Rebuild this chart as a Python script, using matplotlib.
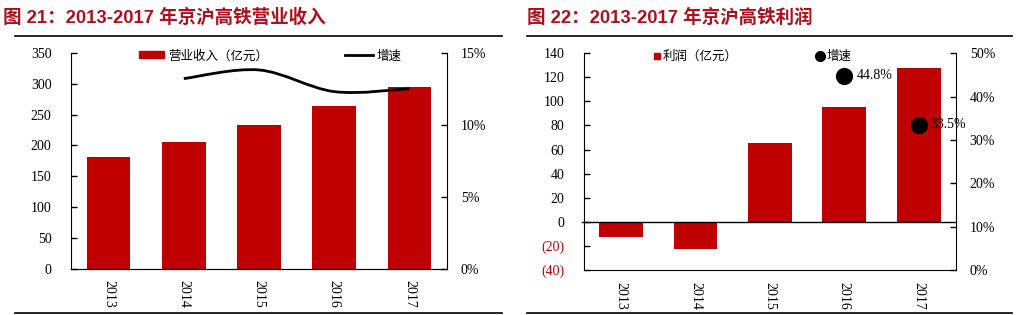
import matplotlib
matplotlib.use("Agg")
import matplotlib.pyplot as plt
import numpy as np
from matplotlib.lines import Line2D
from matplotlib.patches import Patch, PathPatch
from matplotlib.path import Path
from matplotlib.ticker import FuncFormatter

# Data
years = ["2013", "2014", "2015", "2016", "2017"]
revenue = [182, 205, 233, 263, 295]          # 营业收入（亿元）
revenue_growth = [13.2, 13.8, 12.3, 12.5]    # 增速 %, 2014-2017
profit = [-12.5, -22.2, 65.6, 95.2, 127.9]   # 利润（亿元）
profit_growth = [44.8, 33.5]                 # 增速 %, 2016-2017

RED = "#c00000"
TITLE_RED = "#b0101c"
SERIF = ["Liberation Serif", "Noto Sans CJK SC"]
CJK = ["Noto Sans CJK SC", "DejaVu Sans"]
TITLE_FONT = ["Liberation Sans", "Noto Sans CJK SC"]


def smooth_path(xs, ys):
    # Catmull-Rom style bezier through the points (like Excel's smoothed line)
    pts = np.column_stack([xs, ys]).astype(float)
    verts = [pts[0]]
    codes = [Path.MOVETO]
    n = len(pts)
    for i in range(n - 1):
        p0 = pts[max(i - 1, 0)]
        p1 = pts[i]
        p2 = pts[i + 1]
        p3 = pts[min(i + 2, n - 1)]
        c1 = p1 + (p2 - p0) / 6.0
        c2 = p2 - (p3 - p1) / 6.0
        verts += [c1, c2, p2]
        codes += [Path.CURVE4] * 3
    return Path(verts, codes)


def style_axes(ax, ax2):
    for a in (ax, ax2):
        a.spines["top"].set_visible(False)
        a.tick_params(axis="y", direction="in", length=4, width=1,
                      labelsize=10, pad=14)
    ax.spines["right"].set_visible(False)
    ax2.spines["left"].set_visible(False)
    ax.tick_params(axis="x", length=0, pad=8)
    for lab in ax.get_xticklabels() + ax.get_yticklabels() + ax2.get_yticklabels():
        lab.set_family(SERIF)


fig = plt.figure(figsize=(10.3, 3.15), dpi=100)

# ---------------- Left: revenue ----------------
x = np.arange(len(years))
ax1 = fig.add_axes([0.0689, 0.145, 0.3651, 0.688])
ax1.bar(x, revenue, width=0.58, color=RED, zorder=2)
ax1.set_xlim(-0.5, 4.5)
ax1.set_ylim(0, 350)
ax1.set_yticks(range(0, 351, 50))
ax1.set_xticks(x)
ax1.set_xticklabels(years, rotation=-90, fontsize=10)
ax1b = ax1.twinx()
ax1b.set_ylim(0, 15)
ax1b.set_yticks([0, 5, 10, 15])
ax1b.yaxis.set_major_formatter(FuncFormatter(lambda v, p: f"{v:.0f}%"))
ax1b.add_patch(PathPatch(smooth_path(x[1:], revenue_growth), facecolor="none",
                         edgecolor="black", lw=2, zorder=3))
style_axes(ax1, ax1b)
ax1b.tick_params(axis="y", pad=10)

leg_a = ax1.legend([Patch(color=RED)], ["营业收入（亿元）"], loc="center left",
                   bbox_to_anchor=(0.15, 0.985), frameon=False, handlelength=2.0,
                   handleheight=0.5, handletextpad=0.4, prop={"family": CJK, "size": 9})
ax1.add_artist(leg_a)
ax1.legend([Line2D([], [], color="black", lw=2)], ["增速"], loc="center left",
           bbox_to_anchor=(0.7, 0.985), frameon=False, handlelength=2.2,
           handletextpad=0.3, prop={"family": CJK, "size": 9})

# ---------------- Right: profit ----------------
ax2 = fig.add_axes([0.567, 0.143, 0.361, 0.688])
ax2.bar(x, profit, width=0.59, color=RED, zorder=2)
ax2.axhline(0, color="black", lw=1, zorder=3, xmin=-0.006, clip_on=False)
ax2.set_xlim(-0.5, 4.5)
ax2.set_ylim(-40, 140)
ax2.set_yticks(range(-40, 141, 20))
ax2.yaxis.set_major_formatter(FuncFormatter(
    lambda v, p: f"({abs(v):.0f})" if v < 0 else f"{v:.0f}"))
ax2.set_xticks(x)
ax2.set_xticklabels(years, rotation=-90, fontsize=10)
ax2.spines["bottom"].set_visible(False)
ax2b = ax2.twinx()
ax2b.set_ylim(0, 50)
ax2b.set_yticks(range(0, 51, 10))
ax2b.yaxis.set_major_formatter(FuncFormatter(lambda v, p: f"{v:.0f}%"))
ax2b.scatter(x[3:], profit_growth, s=130, color="black", zorder=4)
for xi, g in zip(x[3:], profit_growth):
    ax2b.annotate(f"{g}%", (xi, g), xytext=(12, 0), textcoords="offset pixels",
                  va="center", ha="left", fontsize=10, family=SERIF, zorder=5)
style_axes(ax2, ax2b)
ax2b.tick_params(axis="y", pad=10)
ax2.tick_params(axis="x", pad=9)
for lab, v in zip(ax2.get_yticklabels(), ax2.get_yticks()):
    if v < 0:
        lab.set_color(RED)

leg_b = ax2.legend([Line2D([], [], marker="s", color=RED, ls="none", markersize=4)],
                   ["利润（亿元）"], loc="center left", bbox_to_anchor=(0.155, 0.985),
                   frameon=False, handlelength=0.6, handletextpad=0.2,
                   prop={"family": CJK, "size": 9})
ax2.add_artist(leg_b)
ax2.legend([Line2D([], [], marker="o", color="black", ls="none", markersize=7)],
           ["增速"], loc="center left", bbox_to_anchor=(0.595, 0.985), frameon=False,
           handlelength=0.6, handletextpad=0.2, prop={"family": CJK, "size": 9})

# ---------------- Titles and rules ----------------
fig.text(3 / 1030, 1 - 18 / 315, "图 21：2013-2017 年京沪高铁营业收入", color=TITLE_RED,
         fontsize=13.3, fontweight="bold", family=TITLE_FONT, va="center", ha="left")
fig.text(527 / 1030, 1 - 18 / 315, "图 22：2013-2017 年京沪高铁利润", color=TITLE_RED,
         fontsize=13.3, fontweight="bold", family=TITLE_FONT, va="center", ha="left")
for x0, x1 in [(15, 502), (527, 1012)]:
    for yy in (36, 313):
        fig.add_artist(Line2D([x0 / 1030, x1 / 1030], [1 - yy / 315, 1 - yy / 315],
                              color="black", lw=1.2, transform=fig.transFigure))

fig.savefig("out.png", dpi=100)
